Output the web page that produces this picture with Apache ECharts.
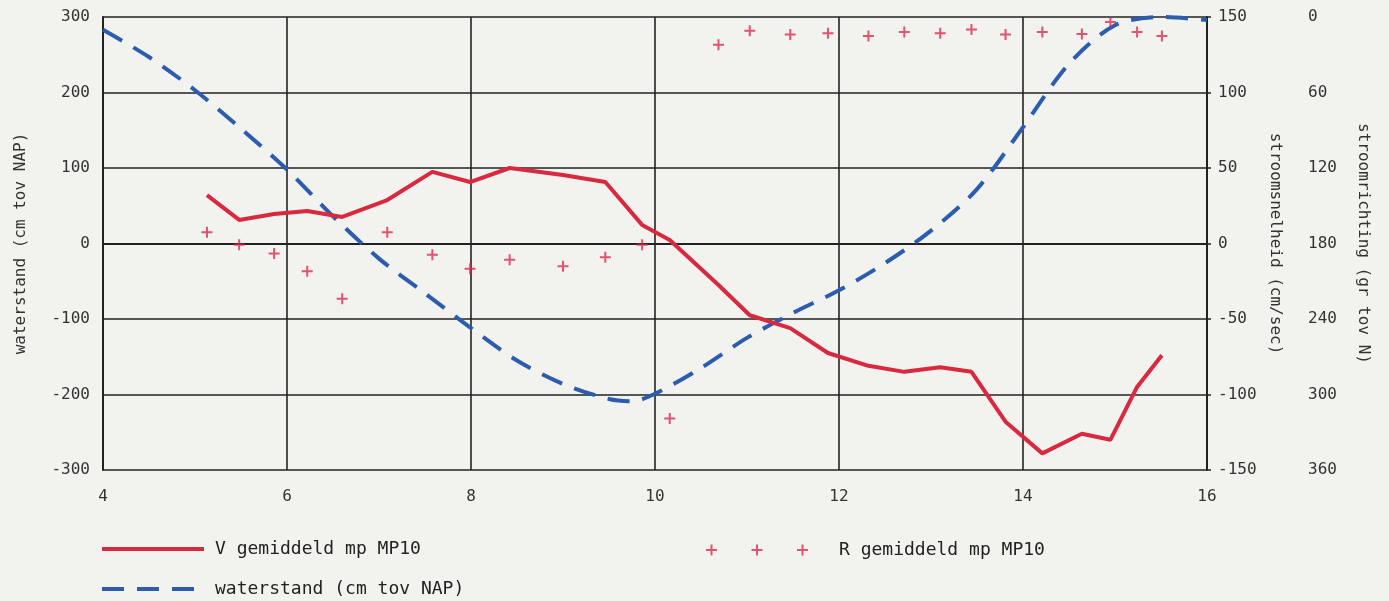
<!DOCTYPE html>
<html>
<head>
<meta charset="utf-8">
<script src="https://cdn.jsdelivr.net/npm/echarts@6/dist/echarts.min.js"></script>
<style>
html,body{margin:0;padding:0;background:#f2f2ef;}
#c{width:1389px;height:601px;}
</style>
</head>
<body>
<div id="c"></div>
<script>
// time (hours) of the current measurements
const timeR = [5.13,5.48,5.86,6.22,6.60,7.09,7.58,7.99,8.42,9.00,9.46,9.86,10.16,10.69,11.03,11.47,11.88,12.32,12.71,13.10,13.44,13.81,14.21,14.64,14.95,15.24,15.51];
// V gemiddeld (cm/sec)
const vData = [32,15.6,19.5,21.5,17.6,28.8,47.4,40.7,50,45.4,40.7,12.3,2.3,-27.5,-47.5,-56,-72.5,-81,-85,-82,-85,-118,-139,-126,-130,-95,-74];
// R gemiddeld (graden t.o.v. N)
const rData = [171,181,188,202,224,171,189,200,193,198,191,181,319,22,11,14,13,15,12,13,10,14,12,13.5,4,12,15];
// waterstand (cm tov NAP)
const timeW = [4.0,4.5,5.0,5.5,6.0,6.5,7.0,7.5,8.0,8.5,9.0,9.5,9.75,10.0,10.5,11.0,11.5,12.0,12.5,13.0,13.5,14.0,14.5,15.0,15.5,16.0];
const wData = [283,247,203,152,98,36,-20,-66,-112,-155,-186,-206,-209,-199,-165,-125,-92,-62,-26,17,72,154,238,289,300,296];
// axis ticks
const xTicks = {min:4, max:16, interval:2};
const wTicks = {min:-300, max:300, interval:100};
const vTicks = {min:-150, max:150, interval:50};
const rTicks = {min:0, max:360, interval:60};

const FONT = 'DejaVu Sans Mono';
const RED = '#d8293f', PINK = '#e0294f', BLUE = '#2b5cae', INK = '#222';
const crossPath = 'path://M4.5,0h2v4.5h4.5v2h-4.5v4.5h-2v-4.5h-4.5v-2h4.5z';
const crosses3 = 'path://M4.5,0h2v4.5h4.5v2h-4.5v4.5h-2v-4.5h-4.5v-2h4.5z' +
  'M50,0h2v4.5h4.5v2h-4.5v4.5h-2v-4.5h-4.5v-2h4.5z' +
  'M95.5,0h2v4.5h4.5v2h-4.5v4.5h-2v-4.5h-4.5v-2h4.5z';

const zip = (xs, ys) => xs.map((x, i) => [x, ys[i]]);
const lbl = {fontFamily: FONT, fontSize: 16, color: '#333'};

const chart = echarts.init(document.getElementById('c'), null, {renderer: 'canvas'});
chart.setOption({
  backgroundColor: '#f2f2ef',
  animation: false,
  grid: {left: 103, right: 182, top: 17, bottom: 131, containLabel: false},
  xAxis: {
    type: 'value', min: xTicks.min, max: xTicks.max, interval: xTicks.interval,
    axisLine: {show: true, lineStyle: {color: INK, width: 2}},
    axisTick: {show: false},
    axisLabel: Object.assign({margin: 19}, lbl),
    splitLine: {show: true, lineStyle: {color: INK, width: 1.6}}
  },
  yAxis: [
    {
      type: 'value', position: 'left', min: wTicks.min, max: wTicks.max, interval: wTicks.interval,
      name: 'waterstand (cm tov NAP)', nameLocation: 'middle', nameGap: 74,
      nameTextStyle: {fontFamily: FONT, fontSize: 16, color: '#333'},
      axisLine: {show: true, lineStyle: {color: INK, width: 2}},
      axisTick: {show: false},
      axisLabel: Object.assign({margin: 13}, lbl),
      splitLine: {show: true, lineStyle: {color: INK, width: 1.6}}
    },
    {
      type: 'value', position: 'right', min: vTicks.min, max: vTicks.max, interval: vTicks.interval,
      name: 'stroomsnelheid (cm/sec)', nameLocation: 'middle', nameGap: 60, nameRotate: -90,
      nameTextStyle: {fontFamily: FONT, fontSize: 16, color: '#333'},
      axisLine: {show: true, lineStyle: {color: INK, width: 2}},
      axisTick: {show: true, length: 4, lineStyle: {color: INK, width: 1.5}},
      axisLabel: Object.assign({margin: 11}, lbl),
      splitLine: {show: false}
    },
    {
      type: 'value', position: 'right', offset: 90, inverse: true,
      min: rTicks.min, max: rTicks.max, interval: rTicks.interval,
      name: 'stroomrichting (gr tov N)', nameLocation: 'middle', nameGap: 58, nameRotate: -90,
      nameTextStyle: {fontFamily: FONT, fontSize: 16, color: '#333'},
      axisLine: {show: false},
      axisTick: {show: false},
      axisLabel: Object.assign({margin: 11}, lbl),
      splitLine: {show: false}
    }
  ],
  legend: [
    {
      left: 100, top: 540, orient: 'vertical', padding: 0,
      itemWidth: 102, itemHeight: 14, itemGap: 22,
      itemStyle: {opacity: 0},
      data: [
        {name: 'V gemiddeld mp MP10', lineStyle: {color: RED, width: 4, type: 'solid'}},
        {name: 'waterstand (cm tov NAP)', lineStyle: {color: BLUE, width: 4, type: [22, 13]}}
      ],
      textStyle: {fontFamily: FONT, fontSize: 18, color: '#222', padding: [0, 0, 0, 6]}
    },
    {
      left: 706, top: 541, padding: 0,
      itemWidth: 102, itemHeight: 11,
      data: [{name: 'R gemiddeld mp MP10', icon: crosses3}],
      itemStyle: {color: PINK},
      textStyle: {fontFamily: FONT, fontSize: 18, color: '#222', padding: [0, 0, 0, 26]}
    }
  ],
  series: [
    {
      name: 'V gemiddeld mp MP10', type: 'line', yAxisIndex: 1, z: 4,
      data: zip(timeR, vData), symbol: 'none',
      lineStyle: {color: RED, width: 4}, itemStyle: {color: RED}
    },
    {
      name: 'waterstand (cm tov NAP)', type: 'line', yAxisIndex: 0, z: 3,
      data: zip(timeW, wData), symbol: 'none', smooth: 0.3,
      lineStyle: {color: BLUE, width: 4, type: [22, 13]}, itemStyle: {color: BLUE}
    },
    {
      name: 'R gemiddeld mp MP10', type: 'scatter', yAxisIndex: 2, z: 5,
      data: zip(timeR, rData), symbol: crossPath, symbolSize: 11,
      itemStyle: {color: PINK}
    }
  ]
});
</script>
</body>
</html>
